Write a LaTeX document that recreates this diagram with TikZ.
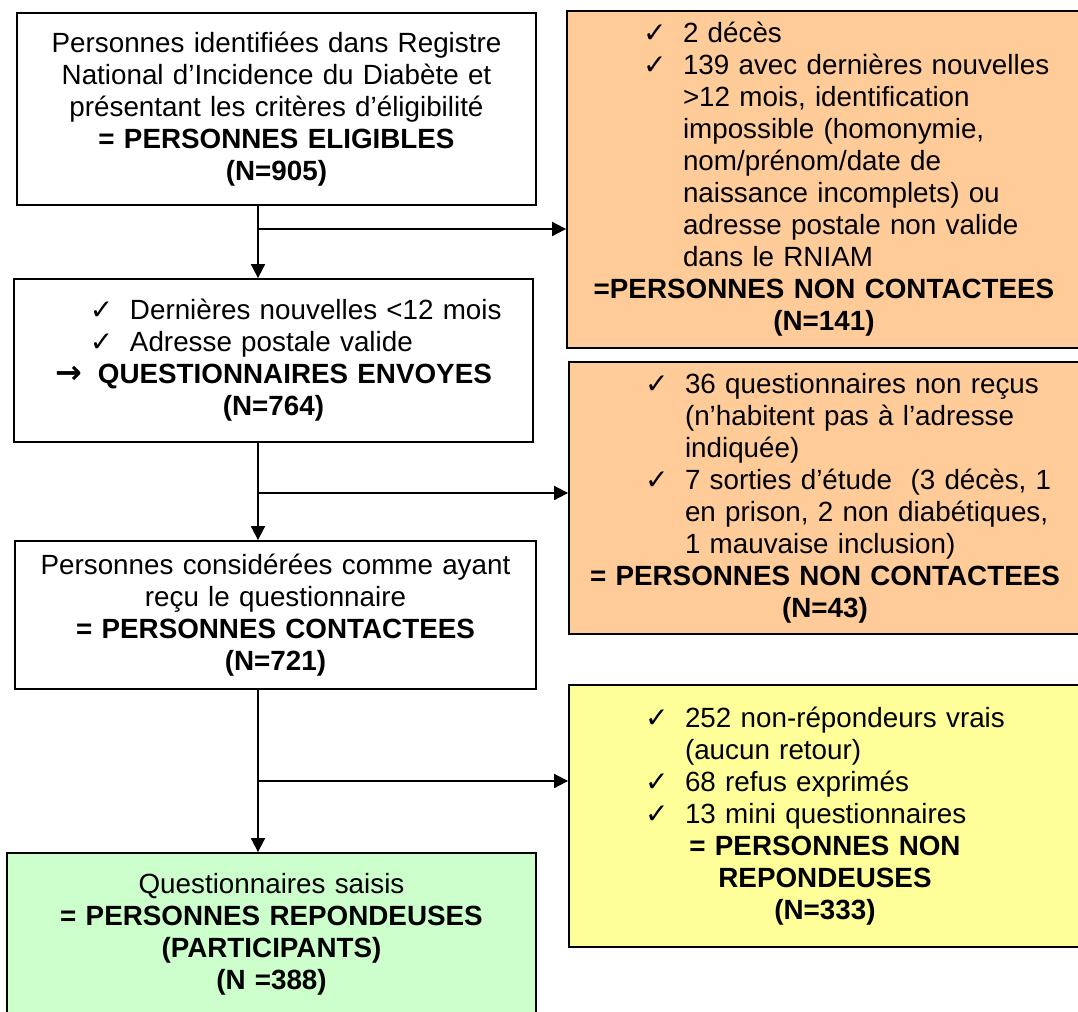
\documentclass[tikz,border=0pt]{standalone}
\usepackage{fontspec}
\setmainfont{Liberation Sans}
\newfontfamily\symfont{DejaVu Sans}
\usepackage{tikz}
\usetikzlibrary{arrows.meta}
\usepackage{color}
\definecolor{orangefill}{HTML}{FFCC99}
\definecolor{yellowfill}{HTML}{FFFF99}
\definecolor{greenfill}{HTML}{CCFFCC}
\newcommand{\ck}{{\symfont\fontsize{14pt}{16pt}\selectfont ✓}}
\newcommand{\chk}[1]{\makebox[\linewidth][l]{\hspace*{38pt}\makebox[20pt][l]{\ck}#1}}
\newcommand{\cnt}[1]{\makebox[\linewidth][l]{\hspace*{58pt}#1}}

\begin{document}
\begin{tikzpicture}[
x=0.5pt, y=-0.5pt,
font=\fontsize{13.9pt}{16pt}\selectfont,
>={Triangle[length=7pt,width=7pt]},
flowbox/.style={rectangle, draw=black, line width=0.9pt, inner sep=0pt, align=center},
whitebox/.style={flowbox, fill=white},
orangebox/.style={flowbox, fill=orangefill},
yellowbox/.style={flowbox, fill=yellowfill},
greenbox/.style={flowbox, fill=greenfill},
flowline/.style={->, line width=0.9pt},
]
\useasboundingbox (0,0) rectangle (1078,1012);
\clip (0,0) rectangle (1078,1012);
\fill[white] (0,0) rectangle (1078,1012);

%Nodes
\node[whitebox, minimum width=259.5pt, minimum height=96pt, text width=259.5pt] (elig) at (276.5,109)
  {Personnes identifiées dans Registre\\ National d’Incidence du Diabète et\\ présentant les critères d’éligibilité\\ \textbf{= PERSONNES ELIGIBLES}\\ \textbf{(N=905)}};
\node[whitebox, minimum width=259.5pt, minimum height=81.5pt, text width=259.5pt] (envoy) at (273.5,360.5)
  {\chk{Dernières nouvelles <12 mois}\\ \chk{Adresse postale valide}\\ {\symfont\bfseries\fontsize{16pt}{16pt}\selectfont →}\hspace{8pt}\textbf{QUESTIONNAIRES ENVOYES}\\ \textbf{(N=764)}};
\node[whitebox, minimum width=260.5pt, minimum height=74pt, text width=260.5pt] (contact) at (275.5,615)
  {Personnes considérées comme ayant\\ reçu le questionnaire\\ \textbf{= PERSONNES CONTACTEES}\\ \textbf{(N=721)}};
\node[greenbox, minimum width=264.5pt, minimum height=81.5pt, text width=264.5pt] (repond) at (271.5,934.5)
  {Questionnaires saisis\\ \textbf{= PERSONNES REPONDEUSES}\\ \textbf{(PARTICIPANTS)}\\ \textbf{(N =388)}};

\node[orangebox, minimum width=257pt, minimum height=168.5pt, text width=257pt] (nc1) at (824,179.5)
  {\chk{2 décès}\\ \chk{139 avec dernières nouvelles}\\ \cnt{>12 mois, identification}\\ \cnt{impossible (homonymie,}\\ \cnt{nom/prénom/date de}\\ \cnt{naissance incomplets) ou}\\ \cnt{adresse postale non valide}\\ \cnt{dans le RNIAM}\\ \textbf{=PERSONNES NON CONTACTEES}\\ \textbf{(N=141)}};
\node[orangebox, minimum width=256pt, minimum height=136pt, text width=256pt] (nc2) at (825,498)
  {\chk{36 questionnaires non reçus}\\ \cnt{(n’habitent pas à l’adresse}\\ \cnt{indiquée)}\\ \chk{7 sorties d’étude\ \ (3 décès, 1}\\ \cnt{en prison, 2 non diabétiques,}\\ \cnt{1 mauvaise inclusion)}\\ \textbf{= PERSONNES NON CONTACTEES}\\ \textbf{(N=43)}};
\node[yellowbox, minimum width=256pt, minimum height=131pt, text width=256pt] (nonrep) at (825,816)
  {\chk{252 non-répondeurs vrais}\\ \cnt{(aucun retour)}\\ \chk{68 refus exprimés}\\ \chk{13 mini questionnaires}\\ \textbf{= PERSONNES NON}\\ \textbf{REPONDEUSES}\\ \textbf{(N=333)}};

%Lines
\coordinate (spine) at (258,0);
\coordinate (b1) at (258,229);
\coordinate (b2) at (258,493);
\coordinate (b3) at (258,781);
\draw[flowline] (elig.south -| spine) -- (envoy.north -| spine);
\draw[flowline] (b1) -- (b1 -| nc1.west);
\draw[flowline] (envoy.south -| spine) -- (contact.north -| spine);
\draw[flowline] (b2) -- (b2 -| nc2.west);
\draw[flowline] (contact.south -| spine) -- (repond.north -| spine);
\draw[flowline] (b3) -- (b3 -| nonrep.west);
\end{tikzpicture}
\end{document}
